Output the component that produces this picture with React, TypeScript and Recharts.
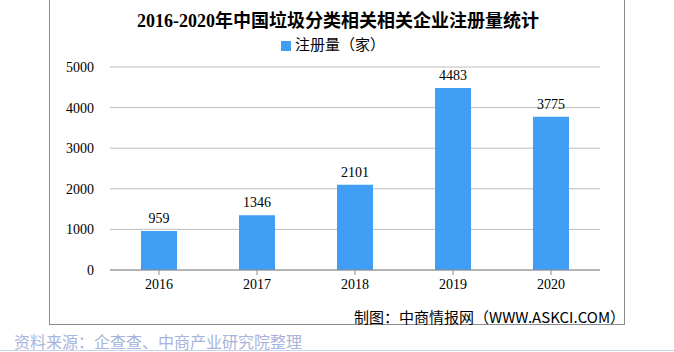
import React from "react";
import { BarChart, Bar, XAxis, YAxis, CartesianGrid, Legend, LabelList } from "recharts";

const years = ["2016", "2017", "2018", "2019", "2020"];
const registrations = [959, 1346, 2101, 4483, 3775];
const yTicks = [0, 1000, 2000, 3000, 4000, 5000];

const title = "2016-2020年中国垃圾分类相关相关企业注册量统计";
const seriesName = "注册量（家）";
const credit = "制图：中商情报网（WWW.ASKCI.COM）";
const source = "资料来源：企查查、中商产业研究院整理";

const data = years.map((y, i) => ({ year: y, value: registrations[i] }));

const serif = "'Liberation Serif', 'DejaVu Serif', 'Noto Sans CJK SC', serif";
const sans = "'Noto Sans CJK SC', 'Noto Sans', sans-serif";

export default function App() {
  return (
    <div style={{ position: "absolute", left: 0, top: 0, width: 674, height: 352, background: "#fff", overflow: "hidden" }}>
      <div style={{ position: "absolute", left: 49, top: -2, width: 576, height: 327, border: "1px solid #8c8c8c", boxSizing: "border-box" }} />
      <div style={{ position: "absolute", left: 0, top: 6, width: 676, textAlign: "center", fontFamily: serif, fontWeight: "bold", fontSize: 18, color: "#000" }}>
        {title}
      </div>
      <div style={{ position: "absolute", left: 0, top: 0 }}>
        <BarChart width={674} height={352} data={data} margin={{ top: 46, right: 74, bottom: 52, left: 60 }}>
          <CartesianGrid vertical={false} stroke="#bcbcbc" />
          <Legend
            verticalAlign="top"
            align="center"
            iconType="square"
            iconSize={10}
            wrapperStyle={{ top: 33, left: 0, width: 676, fontFamily: sans, fontSize: 15, color: "#000" }}
            formatter={() => <span style={{ color: "#000" }}>{seriesName}</span>}
          />
          <XAxis
            dataKey="year"
            height={30}
            stroke="#8c8c8c"
            tickSize={5}
            tick={{ fill: "#000", fontFamily: serif, fontSize: 14 }}
            tickMargin={4}
          />
          <YAxis
            width={50}
            domain={[0, 5000]}
            ticks={yTicks}
            axisLine={false}
            tickLine={false}
            tick={{ fill: "#000", fontFamily: serif, fontSize: 14 }}
            tickMargin={10}
          />
          <Bar dataKey="value" name={seriesName} fill="#409ef5" barSize={36} isAnimationActive={false}>
            <LabelList dataKey="value" position="top" offset={8} style={{ fill: "#000", fontFamily: serif, fontSize: 14 }} />
          </Bar>
        </BarChart>
      </div>
      <div style={{ position: "absolute", left: 354, top: 306, fontFamily: sans, fontSize: 15, color: "#000", whiteSpace: "nowrap" }}>
        {credit}
      </div>
      <div style={{ position: "absolute", left: 14, top: 329, fontFamily: sans, fontSize: 16, color: "#a8b4dc", whiteSpace: "nowrap" }}>
        {source}
      </div>
      <div style={{ position: "absolute", left: 0, top: 350, width: 674, height: 1, background: "#c4d2f0" }} />
    </div>
  );
}
